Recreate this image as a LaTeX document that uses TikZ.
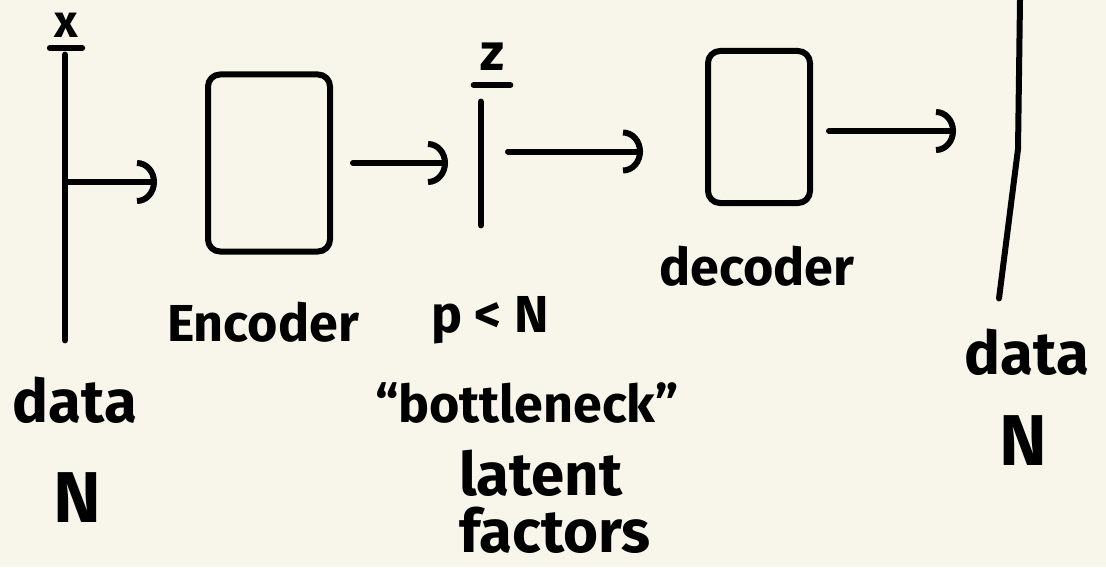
\documentclass[tikz,border=0pt]{standalone}
\usepackage{fontspec}
\setmainfont{Fira Sans}
\usetikzlibrary{arrows.meta}
\definecolor{paper}{RGB}{248,246,234}
\tikzset{
  pen/.style={line width=3pt, line cap=round, line join=round},
  bar/.style={inner sep=0pt, minimum width=0pt},
  box/.style={draw, pen, rounded corners=6pt, inner sep=0pt},
  flow/.style={pen, -{Arc Barb[length=10pt,width=22pt]}},
  lbl/.style={font=\fontsize{26}{28}\selectfont\bfseries, inner sep=0pt},
  small/.style={font=\fontsize{23}{25}\selectfont\bfseries, inner sep=0pt},
  big/.style={font=\fontsize{30}{32}\selectfont\bfseries, inner sep=0pt},
  huge/.style={font=\fontsize{36}{38}\selectfont\bfseries, inner sep=0pt},
}
\begin{document}
\begin{tikzpicture}[x=0.5pt,y=-0.5pt]
\fill[paper] (0,0) rectangle (1106,567);
\useasboundingbox (0,0) rectangle (1106,567);

% bars
\node[bar, minimum height=142.5pt] (xbar) at (65,197.5) {};
\node[bar, minimum height=61.5pt] (zbar) at (481,163.5) {};
\node[bar, minimum height=149pt] (ybar) at (1010,149) {};
\draw[pen] (xbar.north) -- (xbar.south);
\draw[pen] (zbar.north) -- (zbar.south);
\draw[pen] ([xshift=5pt]ybar.north) -- ([xshift=4pt]ybar.center) -- ([xshift=-5.5pt]ybar.south);

% boxes
\node[box, minimum width=61pt, minimum height=88.5pt] (enc) at (269,163) {};
\node[box, minimum width=51pt, minimum height=76pt] (dec) at (759,127) {};

% arrows
\draw[flow, shorten >=24pt] ([yshift=7.75pt]xbar.center) -- ([yshift=7.75pt]xbar.center -| enc.west);
\draw[flow, shorten <=10pt, shorten >=16.5pt] (enc.east) -- (enc.east -| zbar.center);
\draw[flow, shorten <=13.5pt, shorten >=31pt] ([yshift=6pt]zbar.center) -- ([yshift=6pt]zbar.center -| dec.west);
\draw[flow, shorten <=8pt, shorten >=27pt] ([yshift=-2pt]dec.east) -- ([yshift=-2pt]dec.east -| ybar.center);

% labels
\node[small, anchor=base] (xl) at (66,38) {x};
\draw[pen] ([xshift=-2pt,yshift=-5pt]xl.base west) -- ([xshift=2pt,yshift=-5pt]xl.base east);
\node[lbl, anchor=base] (zl) at (492,70) {z};
\draw[pen] ([xshift=-3pt,yshift=-7.5pt]zl.base west) -- ([xshift=3pt,yshift=-7.5pt]zl.base east);
\node[lbl] (encl) at (263,322) {Encoder};
\node[lbl] (pl) at (490,320) {p < N};
\node[lbl] (bl) at (527,403) {``bottleneck''};
\node[big] (ll) at (541,473) {latent};
\node[big] (fl) at (555,530) {factors};
\node[lbl] (decl) at (757,266) {decoder};
\node[big] (d1) at (75,400) {data};
\node[huge] (n1) at (77,498) {N};
\node[big] (d2) at (1027,352) {data};
\node[huge] (n2) at (1023,441) {N};
\end{tikzpicture}
\end{document}
